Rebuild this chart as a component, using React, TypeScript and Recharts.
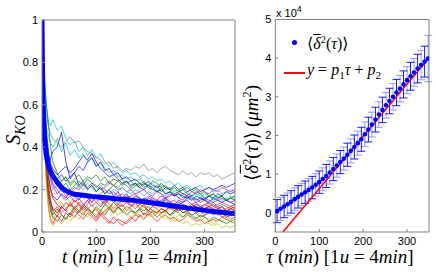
import React from 'react'
import {
  LineChart,
  Line,
  XAxis,
  YAxis,
  ComposedChart,
  Scatter,
  ErrorBar,
} from 'recharts'

// left panel: S_KO traces, sampled every few minutes
const T = [
  0, 4, 8, 12, 16, 20, 28, 36, 44, 52, 60, 68, 76, 84, 92, 100, 108, 116, 124,
  132, 140, 148, 156, 164, 172, 180, 188, 196, 204, 212, 220, 228, 236, 244,
  252, 260, 268, 276, 284, 292, 300, 308, 316, 324, 332, 340, 348, 356,
]

const sK1 = [1,0.7,0.55,0.5,0.46,0.44,0.42,0.40,0.43,0.45, 0.42,0.43,0.40,0.38,0.37,0.35,0.34,0.32,0.33,0.30, 0.31,0.29,0.30,0.29,0.31,0.30,0.32,0.29,0.30,0.28, 0.30,0.31,0.29,0.28,0.27,0.29,0.27,0.28,0.26,0.28, 0.27,0.28,0.26,0.27,0.25,0.26,0.27,0.28]
const sC1 = [1,0.72,0.6,0.52,0.5,0.53,0.48,0.50,0.44,0.41, 0.43,0.38,0.40,0.36,0.39,0.35,0.37,0.33,0.31,0.33, 0.30,0.28,0.29,0.27,0.28,0.26,0.27,0.25,0.26,0.24, 0.25,0.23,0.24,0.22,0.23,0.21,0.22,0.20,0.21,0.22, 0.20,0.21,0.19,0.20,0.18,0.19,0.20,0.19]
const sC2 = [1,0.65,0.5,0.45,0.42,0.4,0.44,0.38,0.42,0.36, 0.39,0.35,0.37,0.33,0.35,0.31,0.33,0.3,0.28,0.29, 0.26,0.27,0.25,0.26,0.24,0.25,0.23,0.22,0.23,0.21, 0.22,0.2,0.21,0.19,0.2,0.18,0.19,0.17,0.18,0.17, 0.16,0.17,0.15,0.16,0.17,0.15,0.16,0.15]
const sB1 = [1,0.6,0.4,0.3,0.35,0.38,0.40,0.47,0.33,0.25, 0.28,0.22,0.24,0.2,0.22,0.19,0.21,0.18,0.2,0.17, 0.19,0.16,0.18,0.15,0.17,0.16,0.14,0.16,0.15,0.13, 0.14,0.15,0.13,0.12,0.14,0.13,0.12,0.11,0.13,0.12, 0.11,0.12,0.1,0.11,0.12,0.1,0.11,0.1]
const sB2 = [1,0.62,0.45,0.35,0.3,0.28,0.25,0.27,0.24,0.26, 0.28,0.31,0.29,0.33,0.35,0.31,0.33,0.29,0.3,0.27, 0.28,0.25,0.26,0.24,0.25,0.23,0.22,0.24,0.22,0.21, 0.23,0.21,0.2,0.22,0.2,0.21,0.19,0.2,0.21,0.19, 0.2,0.21,0.2,0.21,0.22,0.21,0.22,0.23]
const sG1 = [1,0.6,0.42,0.33,0.28,0.25,0.22,0.24,0.26,0.23, 0.25,0.27,0.24,0.26,0.25,0.27,0.24,0.26,0.23,0.25, 0.24,0.22,0.24,0.21,0.23,0.22,0.24,0.21,0.2,0.22, 0.19,0.21,0.2,0.18,0.19,0.2,0.18,0.17,0.19,0.18, 0.16,0.17,0.18,0.16,0.17,0.15,0.16,0.15]
const sG2 = [1,0.75,0.6,0.5,0.4,0.33,0.28,0.24,0.26,0.22, 0.24,0.21,0.23,0.2,0.22,0.19,0.21,0.18,0.2,0.22, 0.24,0.25,0.23,0.24,0.22,0.23,0.21,0.22,0.2,0.19, 0.21,0.18,0.19,0.17,0.18,0.16,0.17,0.15,0.16,0.14, 0.15,0.13,0.14,0.12,0.13,0.12,0.11,0.12]
const sM1 = [1,0.58,0.4,0.3,0.25,0.22,0.18,0.2,0.17,0.19, 0.21,0.2,0.22,0.21,0.23,0.22,0.2,0.21,0.23,0.22, 0.2,0.21,0.19,0.2,0.18,0.19,0.2,0.18,0.17,0.19, 0.18,0.16,0.17,0.18,0.16,0.15,0.17,0.16,0.14,0.15, 0.16,0.15,0.14,0.15,0.16,0.15,0.14,0.15]
const sM2 = [1,0.5,0.3,0.2,0.14,0.1,0.12,0.09,0.11,0.13, 0.11,0.14,0.12,0.15,0.17,0.16,0.18,0.2,0.18,0.19, 0.17,0.18,0.16,0.17,0.18,0.16,0.15,0.17,0.16,0.14, 0.15,0.16,0.14,0.15,0.13,0.14,0.15,0.13,0.14,0.12, 0.13,0.14,0.12,0.13,0.14,0.13,0.12,0.13]
const sR1 = [1,0.45,0.25,0.12,0.06,0.04,0.08,0.05,0.09,0.07, 0.1,0.08,0.06,0.09,0.07,0.05,0.08,0.06,0.04,0.07, 0.05,0.03,0.05,0.07,0.05,0.08,0.06,0.09,0.07,0.05, 0.07,0.08,0.06,0.07,0.05,0.06,0.08,0.07,0.05,0.06, 0.04,0.05,0.06,0.05,0.07,0.06,0.05,0.06]
const sR2 = [1,0.55,0.35,0.22,0.15,0.1,0.07,0.12,0.1,0.14, 0.11,0.13,0.1,0.12,0.09,0.11,0.08,0.1,0.12,0.09, 0.11,0.13,0.1,0.12,0.14,0.11,0.13,0.1,0.12,0.11, 0.09,0.1,0.12,0.1,0.11,0.09,0.1,0.11,0.09,0.1, 0.08,0.09,0.1,0.08,0.09,0.07,0.08,0.09]
const sY1 = [1,0.5,0.3,0.18,0.1,0.06,0.1,0.14,0.11,0.13, 0.1,0.12,0.09,0.11,0.13,0.1,0.12,0.14,0.11,0.1, 0.12,0.09,0.11,0.1,0.08,0.1,0.12,0.09,0.08,0.1, 0.07,0.09,0.08,0.06,0.08,0.07,0.09,0.06,0.07,0.05, 0.07,0.06,0.04,0.06,0.05,0.07,0.05,0.06]
const sY2 = [1,0.6,0.38,0.25,0.19,0.16,0.13,0.15,0.17,0.14, 0.16,0.13,0.15,0.17,0.14,0.16,0.13,0.15,0.14,0.12, 0.14,0.13,0.15,0.12,0.13,0.11,0.13,0.12,0.1,0.12, 0.11,0.09,0.11,0.1,0.12,0.1,0.09,0.11,0.1,0.08, 0.1,0.09,0.11,0.09,0.1,0.08,0.09,0.1]
const sK2 = [1,0.48,0.28,0.16,0.1,0.07,0.05,0.08,0.06,0.09, 0.07,0.1,0.08,0.11,0.09,0.07,0.1,0.08,0.11,0.09, 0.12,0.1,0.08,0.1,0.09,0.11,0.08,0.1,0.09,0.07, 0.09,0.1,0.08,0.09,0.11,0.09,0.1,0.08,0.09,0.07, 0.08,0.1,0.08,0.09,0.07,0.08,0.06,0.07]
const sB3 = [1,0.55,0.36,0.26,0.2,0.17,0.15,0.18,0.16,0.19, 0.17,0.15,0.18,0.16,0.14,0.17,0.15,0.13,0.16,0.14, 0.16,0.15,0.17,0.15,0.16,0.14,0.16,0.15,0.13,0.15, 0.14,0.16,0.14,0.13,0.15,0.14,0.16,0.15,0.17,0.16, 0.15,0.17,0.16,0.18,0.17,0.19,0.18,0.19]
const sG3 = [1,0.52,0.3,0.18,0.12,0.08,0.11,0.08,0.06,0.09, 0.12,0.1,0.13,0.11,0.09,0.12,0.1,0.13,0.11,0.14, 0.12,0.1,0.12,0.11,0.09,0.11,0.1,0.12,0.1,0.09, 0.11,0.1,0.08,0.1,0.09,0.07,0.09,0.08,0.06,0.08, 0.07,0.05,0.07,0.06,0.05,0.04,0.05,0.04]
const sC3 = [1,0.6,0.4,0.3,0.24,0.2,0.22,0.19,0.21,0.18, 0.2,0.22,0.2,0.23,0.21,0.19,0.22,0.2,0.18,0.2, 0.19,0.21,0.19,0.18,0.2,0.19,0.17,0.19,0.18,0.2, 0.18,0.17,0.19,0.18,0.16,0.18,0.17,0.15,0.17,0.16, 0.18,0.17,0.16,0.17,0.15,0.16,0.17,0.16]
const sR3 = [1,0.5,0.3,0.2,0.14,0.11,0.09,0.12,0.1,0.08, 0.11,0.09,0.12,0.1,0.08,0.06,0.09,0.07,0.05,0.04, 0.06,0.05,0.04,0.06,0.08,0.07,0.09,0.08,0.1,0.09, 0.11,0.1,0.12,0.11,0.1,0.12,0.11,0.13,0.12,0.11, 0.13,0.12,0.11,0.12,0.1,0.11,0.12,0.11]
const sM3 = [1,0.62,0.42,0.32,0.26,0.23,0.2,0.17,0.15,0.17, 0.14,0.16,0.13,0.15,0.12,0.14,0.16,0.14,0.17,0.15, 0.13,0.15,0.14,0.12,0.14,0.13,0.15,0.14,0.16,0.15, 0.17,0.16,0.18,0.17,0.19,0.18,0.17,0.19,0.18,0.2, 0.19,0.18,0.2,0.19,0.21,0.2,0.19,0.2]
const sY3 = [1,0.45,0.22,0.1,0.05,0.03,0.06,0.04,0.07,0.05, 0.08,0.06,0.09,0.07,0.1,0.08,0.11,0.09,0.12,0.1, 0.08,0.1,0.09,0.07,0.09,0.08,0.06,0.08,0.07,0.09, 0.08,0.06,0.07,0.05,0.06,0.04,0.05,0.03,0.04,0.03, 0.05,0.04,0.03,0.04,0.02,0.03,0.02,0.03]
const sB4 = [1,0.66,0.48,0.38,0.32,0.3,0.27,0.29,0.31,0.28, 0.3,0.33,0.36,0.34,0.37,0.33,0.3,0.28,0.26,0.27, 0.25,0.23,0.24,0.22,0.23,0.21,0.2,0.22,0.21,0.19, 0.2,0.18,0.19,0.17,0.18,0.17,0.16,0.17,0.15,0.16, 0.15,0.14,0.16,0.15,0.14,0.15,0.14,0.13]
const sG4 = [1,0.64,0.46,0.36,0.3,0.26,0.23,0.21,0.23,0.2, 0.22,0.24,0.22,0.25,0.23,0.21,0.23,0.22,0.24,0.22, 0.21,0.23,0.22,0.2,0.22,0.21,0.23,0.22,0.24,0.23, 0.21,0.22,0.2,0.21,0.19,0.2,0.21,0.19,0.2,0.18, 0.19,0.17,0.18,0.16,0.17,0.15,0.16,0.17]
const sR4 = [1,0.58,0.38,0.26,0.2,0.16,0.13,0.11,0.14,0.12, 0.15,0.13,0.11,0.13,0.16,0.14,0.12,0.15,0.13,0.11, 0.13,0.12,0.14,0.13,0.11,0.13,0.12,0.1,0.12,0.14, 0.12,0.13,0.11,0.12,0.1,0.12,0.11,0.13,0.12,0.1, 0.11,0.12,0.13,0.11,0.12,0.1,0.11,0.1]

const traces = [
  { s: sK1, c: '#808080' }, { s: sC1, c: '#00bfbf' }, { s: sC2, c: '#00bfbf' },
  { s: sB1, c: '#0000ff' }, { s: sB2, c: '#0000ff' }, { s: sG1, c: '#008000' },
  { s: sG2, c: '#008000' }, { s: sM1, c: '#bf00bf' }, { s: sM2, c: '#bf00bf' },
  { s: sR1, c: '#ff0000' }, { s: sR2, c: '#ff0000' }, { s: sY1, c: '#bfbf00' },
  { s: sY2, c: '#bfbf00' }, { s: sK2, c: '#404040' }, { s: sB3, c: '#0000ff' },
  { s: sG3, c: '#008000' }, { s: sC3, c: '#00bfbf' }, { s: sR3, c: '#ff0000' },
  { s: sM3, c: '#bf00bf' }, { s: sY3, c: '#bfbf00' }, { s: sB4, c: '#0000ff' },
  { s: sG4, c: '#008000' }, { s: sR4, c: '#ff0000' },
]

// mean curve
const meanT = [0,1,2,4,8,12,16,20,28,36,44,52,60,76,92,108,124,140,156,172,188,204,220,236,252,268,284,300,316,332,348,356]
const meanS = [1,0.75,0.58,0.45,0.36,0.31,0.285,0.265,0.235,0.21,0.195,0.185,0.178,0.173,0.168,0.164,0.16,0.156,0.152,0.148,0.143,0.137,0.131,0.125,0.119,0.113,0.108,0.102,0.097,0.093,0.088,0.086]

const tTicks = [0, 100, 200, 300]
const sTicks = [0, 0.2, 0.4, 0.6, 0.8, 1]

// right panel: time averaged MSD
const tau = [4,12,20,28,36,44,52,60,68,76,84,92,100,108,116,124,132,140,148,156,164,172,180,188,196,204,212,220,228,236,244,252,260,268,276,284,292,300,308,316,324,332,340,348]
const msd = [400,1000,1600,2200,2800,3500,4100,4700,5300,5900,6500,7200,7900,8700,9500,10400,11300,12200,13100,14000,15000,16000,17000,18000,19000,20300,21500,22800,24100,25400,26600,27800,28900,30000,31100,32100,33200,34300,35300,36300,37300,38200,39100,39900]
const msdErr = [3000,3000,2900,2900,2900,2900,2900,2900,2900,2900,2900,2900,2900,2900,3000,3000,3000,3000,3000,3000,3000,3100,3100,3100,3100,3200,3200,3200,3200,3300,3300,3300,3300,3400,3400,3400,3500,3500,3600,3600,3700,3800,4000,6000]
const p1 = 135.4
const p2 = -7340
const fitTau = [0, 350]

const tauTicks = [0, 100, 200, 300]
const msdTicks = [0, 10000, 20000, 30000, 40000, 50000]

const frame = '#808080'
const sans = '"Liberation Sans", Arial, sans-serif'
const serif = '"Liberation Serif", "DejaVu Serif", serif'
const tickStyle = { fill: '#000', fontSize: 11, fontFamily: sans }

const meanRows = meanT.map((t, i) => ({ t, s: meanS[i] }))
const traceRows = traces.map((tr) => T.map((t, i) => ({ t, s: tr.s[i] })))
const pts = tau.map((x, i) => ({ x, y: msd[i], e: msdErr[i] }))
const darkPts = pts.filter((_, i) => i % 2 === 0)
const lightPts = pts.filter((_, i) => i % 2 === 1)
const fitRows = fitTau.map((x) => ({ x, y: p1 * x + p2 }))

const Dot = (props: any) => <circle cx={props.cx} cy={props.cy} r={2.3} fill="#0000ff" />

const Rotated = ({ x, y, size, children }: any) => (
  <div
    style={{
      position: 'absolute',
      left: x,
      top: y,
      transform: 'translate(-50%, -50%) rotate(-90deg)',
      whiteSpace: 'pre',
      fontFamily: serif,
      fontSize: size,
      lineHeight: 1,
    }}
  >
    {children}
  </div>
)

const MsdSym = () => (
  <span>
    ⟨<i style={{ textDecoration: 'overline' }}>δ</i>
    <sup style={{ fontSize: '0.65em' }}>2</sup>(<i>τ</i>)⟩
  </span>
)

const xLabel = (left: number, v: string) => (
  <div style={{ position: 'absolute', left, top: 256, transform: 'translate(-50%, -50%)', whiteSpace: 'pre', fontFamily: serif, fontSize: 19, lineHeight: 1 }}>
    <i>{v}</i> (<i>min</i>) [1<i>u</i> = 4<i>min</i>]
  </div>
)

export default function App() {
  return (
    <div style={{ position: 'absolute', left: 0, top: 0, width: 436, height: 272, background: '#fff' }}>
      <LineChart
        width={240}
        height={272}
        margin={{ top: 19, right: 4, bottom: 10, left: 2 }}
        style={{ position: 'absolute', left: 0, top: 0 }}
      >
        <XAxis xAxisId="b" dataKey="t" type="number" domain={[0, 356]} ticks={tTicks} allowDataOverflow height={30} tickSize={-3} tickMargin={8} stroke={frame} tick={tickStyle} />
        <XAxis xAxisId="t" orientation="top" dataKey="t" type="number" domain={[0, 356]} ticks={tTicks} allowDataOverflow height={1} tickSize={-3} tick={false} stroke={frame} />
        <YAxis yAxisId="l" type="number" domain={[0, 1]} ticks={sTicks} allowDataOverflow width={40} tickSize={-3} tickMargin={7} stroke={frame} tick={tickStyle} />
        <YAxis yAxisId="r" orientation="right" type="number" domain={[0, 1]} ticks={sTicks} allowDataOverflow width={1} tickSize={-3} tick={false} stroke={frame} />
        {traces.map((tr, k) => (
          <Line
            key={k}
            xAxisId="b"
            yAxisId="l"
            data={traceRows[k]}
            dataKey="s"
            stroke={tr.c}
            strokeWidth={0.7}
            dot={false}
            isAnimationActive={false}
          />
        ))}
        <Line xAxisId="b" yAxisId="l" data={meanRows} dataKey="s" stroke="#0000ff" strokeWidth={5} dot={false} isAnimationActive={false} />
      </LineChart>

      <ComposedChart
        width={196}
        height={272}
        margin={{ top: 18.5, right: 6, bottom: 10, left: 5.3 }}
        style={{ position: 'absolute', left: 240, top: 0 }}
      >
        <XAxis xAxisId="b" dataKey="x" type="number" domain={[0, 350]} ticks={tauTicks} allowDataOverflow height={30} tickSize={-3} tickMargin={8} stroke={frame} tick={tickStyle} />
        <XAxis xAxisId="t" orientation="top" dataKey="x" type="number" domain={[0, 350]} ticks={tauTicks} allowDataOverflow height={1} tickSize={-3} tick={false} stroke={frame} />
        <YAxis yAxisId="l" type="number" domain={[-5000, 50000]} ticks={msdTicks} tickFormatter={(v: number) => String(v / 10000)} allowDataOverflow width={30} tickSize={-3} tickMargin={7} stroke={frame} tick={tickStyle} />
        <YAxis yAxisId="r" orientation="right" type="number" domain={[-5000, 50000]} ticks={msdTicks} allowDataOverflow width={1} tickSize={-3} tick={false} stroke={frame} />
        <Scatter xAxisId="b" yAxisId="l" data={lightPts} dataKey="y" shape={Dot} isAnimationActive={false}>
          <ErrorBar dataKey="e" direction="y" width={4} stroke="#9a9aff" strokeWidth={1} isAnimationActive={false} />
        </Scatter>
        <Scatter xAxisId="b" yAxisId="l" data={darkPts} dataKey="y" shape={Dot} isAnimationActive={false}>
          <ErrorBar dataKey="e" direction="y" width={4} stroke="#0000ff" strokeWidth={0.9} isAnimationActive={false} />
        </Scatter>
        <Line xAxisId="b" yAxisId="l" data={fitRows} dataKey="y" stroke="#ff0000" strokeWidth={1.5} dot={false} isAnimationActive={false} />
      </ComposedChart>

      {/* axis labels */}
      <Rotated x={15} y={130} size={20}>
        <i>S</i>
        <sub style={{ fontSize: '0.7em' }}><i>KO</i></sub>
      </Rotated>
      <Rotated x={251} y={133} size={19}>
        <MsdSym />{' '}(<i>μm</i>
        <sup style={{ fontSize: '0.65em' }}>2</sup>)
      </Rotated>
      {xLabel(135, 't')}
      {xLabel(340, 'τ')}
      <div style={{ position: 'absolute', left: 276, top: 5, fontFamily: sans, fontSize: 11, lineHeight: 1, whiteSpace: 'nowrap' }}>
        x 10<sup style={{ fontSize: '0.8em' }}>4</sup>
      </div>

      {/* legend */}
      <div style={{ position: 'absolute', left: 284, top: 27, fontFamily: serif, fontSize: 16, lineHeight: '26px', whiteSpace: 'pre' }}>
        <div style={{ display: 'flex', alignItems: 'center' }}>
          <span style={{ width: 21, display: 'inline-flex', justifyContent: 'center' }}>
            <span style={{ width: 5, height: 5, borderRadius: 3, background: '#0000ff' }} />
          </span>
          <span style={{ marginLeft: 2 }}><MsdSym /></span>
        </div>
        <div style={{ display: 'flex', alignItems: 'center' }}>
          <span style={{ width: 21, height: 2, background: '#ff0000' }} />
          <span style={{ marginLeft: 2 }}>
            <i>y</i> = <i>p</i><sub style={{ fontSize: '0.7em' }}>1</sub><i>τ</i> + <i>p</i><sub style={{ fontSize: '0.7em' }}>2</sub>
          </span>
        </div>
      </div>
    </div>
  )
}
